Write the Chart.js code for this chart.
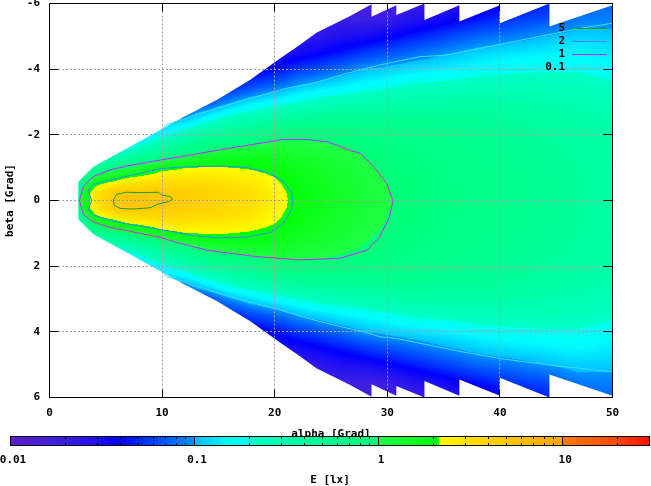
<!DOCTYPE html>
<html>
<head>
<meta charset="utf-8">
<script src="https://cdn.jsdelivr.net/npm/chart.js@4/dist/chart.umd.min.js"></script>
<style>
  body { margin: 0; background: #fff; }
  #wrap { position: relative; width: 651px; height: 486px; }
  canvas { position: absolute; left: 0; top: 0; }
</style>
</head>
<body>
<div id="wrap">
  <canvas id="mapChart" width="651" height="486"></canvas>
  <canvas id="barChart" width="651" height="486"></canvas>
</div>
<script>
// axis ticks
const alphaTicks = [0, 10, 20, 30, 40, 50];
const betaTicks = [-6, -4, -2, 0, 2, 4, 6];
const cbTicks = [0.01, 0.1, 1, 10];
const cbLabels = ['0.01', '0.1', '1', '10'];
const cbMinor = [0.02, 0.03, 0.04, 0.05, 0.06, 0.07, 0.08, 0.09,
                 0.2, 0.3, 0.4, 0.5, 0.6, 0.7, 0.8, 0.9,
                 2, 3, 4, 5, 6, 7, 8, 9, 20];

// measured grid: E [lx] per alpha column, at |beta| nodes (field is symmetric in beta)
const alphaNodes = [2.6, 3, 3.5, 4, 5, 6, 7, 8, 10, 12, 14, 16, 18, 20, 22, 24, 26, 28, 30, 32, 35, 38, 41, 44, 47, 50];
const betaNodes = [0, 0.25, 0.5, 0.75, 1, 1.25, 1.5, 1.75, 2, 2.5, 3, 3.5, 4, 4.5, 5, 5.5, 6];
const illum = [
  [0.95, 0.7, 0.35, 0.25],
  [1.5, 1.3, 0.85, 0.45],
  [1.95, 2.0, 1.2, 0.65, 0.4],
  [2.8, 2.6, 1.9, 0.95, 0.45, 0.3],
  [4.0, 3.5, 2.3, 1.3, 0.65, 0.3],
  [5.2, 4.8, 2.7, 1.6, 0.85, 0.38, 0.17],
  [5.4, 5.0, 3.0, 1.95, 1.0, 0.5, 0.22, 0.14],
  [5.5, 5.0, 3.2, 2.1, 1.15, 0.6, 0.3, 0.17, 0.12],
  [5.1, 4.6, 3.6, 2.6, 1.85, 0.85, 0.5, 0.3, 0.17, 0.09],
  [4.6, 4.3, 3.5, 2.7, 2.1, 1.15, 0.7, 0.45, 0.28, 0.1, 0.06],
  [4.1, 3.9, 3.3, 2.7, 2.2, 1.5, 0.97, 0.65, 0.42, 0.16, 0.06],
  [3.6, 3.45, 3.0, 2.6, 2.15, 1.6, 1.15, 0.8, 0.55, 0.24, 0.095, 0.045],
  [3.1, 3.0, 2.7, 2.4, 2.05, 1.65, 1.25, 0.9, 0.65, 0.3, 0.13, 0.06, 0.035],
  [2.55, 2.45, 2.3, 2.1, 1.85, 1.6, 1.3, 1.05, 0.8, 0.4, 0.16, 0.075, 0.04, 0.03],
  [1.9, 1.88, 1.8, 1.7, 1.55, 1.4, 1.22, 1.05, 0.88, 0.47, 0.2, 0.1, 0.055, 0.032, 0.025],
  [1.6, 1.58, 1.54, 1.46, 1.36, 1.25, 1.12, 1.02, 0.88, 0.5, 0.24, 0.12, 0.065, 0.038, 0.025, 0.02],
  [1.35, 1.34, 1.31, 1.26, 1.2, 1.13, 1.05, 0.95, 0.83, 0.52, 0.27, 0.14, 0.08, 0.045, 0.03, 0.02],
  [1.15, 1.14, 1.12, 1.09, 1.05, 1.01, 0.96, 0.88, 0.8, 0.55, 0.3, 0.16, 0.1, 0.055, 0.032, 0.02, 0.015],
  [1.02, 1.015, 1.0, 0.98, 0.95, 0.91, 0.86, 0.8, 0.73, 0.55, 0.33, 0.18, 0.11, 0.065, 0.038, 0.022, 0.015],
  [0.93, 0.93, 0.92, 0.9, 0.87, 0.84, 0.8, 0.75, 0.69, 0.54, 0.36, 0.21, 0.125, 0.075, 0.045, 0.028, 0.02],
  [0.8, 0.8, 0.79, 0.78, 0.76, 0.73, 0.7, 0.66, 0.62, 0.5, 0.36, 0.23, 0.14, 0.095, 0.058, 0.035, 0.025],
  [0.7, 0.7, 0.69, 0.68, 0.67, 0.65, 0.63, 0.6, 0.57, 0.48, 0.37, 0.25, 0.165, 0.115, 0.075, 0.045, 0.03],
  [0.6, 0.6, 0.6, 0.59, 0.58, 0.56, 0.55, 0.52, 0.5, 0.44, 0.35, 0.26, 0.18, 0.13, 0.085, 0.055, 0.04],
  [0.52, 0.52, 0.52, 0.51, 0.5, 0.49, 0.48, 0.46, 0.45, 0.4, 0.33, 0.26, 0.19, 0.14, 0.1, 0.065, 0.045],
  [0.45, 0.45, 0.45, 0.44, 0.44, 0.43, 0.42, 0.41, 0.4, 0.36, 0.31, 0.25, 0.19, 0.15, 0.115, 0.085, 0.07],
  [0.38, 0.38, 0.38, 0.38, 0.37, 0.37, 0.36, 0.36, 0.35, 0.32, 0.27, 0.22, 0.16, 0.135, 0.11, 0.09, 0.075]
];

// outline of the measured region (half width in beta, mirrored)
const edgeAlpha = [2.56, 3.9, 8.0, 11.9, 14.85, 17.8, 20.5, 22.25, 23.7, 26.7, 28.6, 28.6, 30.8, 30.8, 33.3, 33.3, 36.4, 36.4, 40.0, 40.0, 44.4, 44.4, 50];
const edgeBeta = [0.57, 1.03, 1.8, 2.54, 3.06, 3.67, 4.33, 4.74, 5.11, 5.62, 5.98, 5.6, 5.95, 5.65, 6.0, 5.5, 5.95, 5.45, 5.95, 5.4, 6.0, 5.3, 5.95];

// contour lines
const c5Alpha = [5.67, 5.97, 6.86, 8.04, 9.66, 9.96, 10.7, 10.94, 10.55, 9.81, 8.93, 7.45, 6.26, 5.73, 5.67];
const c5Beta = [-0.02, -0.19, -0.25, -0.24, -0.25, -0.17, -0.12, -0.05, 0.04, 0.09, 0.22, 0.26, 0.24, 0.14, -0.02];
const c2Alpha = [3.45, 3.89, 5.08, 6.56, 8.04, 10.1, 12.48, 15.4, 17.5, 19.6, 20.8, 21.5, 21.65, 21.4, 20.8, 19.6, 17.5, 14.85, 12.48, 10.1, 8.04, 6.56, 5.08, 3.89, 3.45, 3.6, 3.75, 3.6, 3.45];
const c2Beta = [-0.32, -0.49, -0.6, -0.72, -0.83, -0.98, -1.03, -1.05, -1.01, -0.83, -0.57, -0.22, 0, 0.34, 0.68, 0.98, 1.12, 1.14, 1.05, 0.9, 0.78, 0.7, 0.57, 0.44, 0.29, 0.14, 0, -0.14, -0.32];
const c1Alpha = [2.65, 3.0, 3.89, 5.37, 6.86, 9.81, 11.6, 15.4, 19.9, 20.7, 22.8, 24.6, 25.5, 26.7, 27.6, 28.8, 29.95, 30.5, 30.2, 29.35, 28.2, 25.8, 22.25, 18.4, 13.96, 11.0, 9.81, 6.86, 5.37, 3.89, 3.0, 2.65];
const c1Beta = [0, -0.42, -0.73, -0.93, -1.05, -1.23, -1.33, -1.56, -1.81, -1.86, -1.86, -1.79, -1.69, -1.52, -1.44, -1.03, -0.52, 0, 0.49, 1.1, 1.51, 1.76, 1.81, 1.71, 1.51, 1.25, 1.12, 0.92, 0.82, 0.65, 0.42, 0];
const c01TopAlpha = [10.1, 10.4, 14.85, 20.8, 23.4, 26.4, 29.35, 32.9, 35.3, 41.2, 47.1, 50];
const c01TopBeta = [-2.22, -2.31, -2.81, -3.4, -3.57, -3.87, -4.13, -4.38, -4.43, -4.84, -5.24, -5.4];
const c01BotAlpha = [10.1, 10.4, 14.85, 20.5, 22.25, 24.6, 27.9, 29.35, 30.8, 36.5, 40, 44.4, 50];
const c01BotBeta = [2.22, 2.31, 2.81, 3.34, 3.52, 3.74, 4.0, 4.15, 4.2, 4.6, 4.81, 5.01, 5.22];

const contourLabels = ['5', '2', '1', '0.1'];
const contourColors = ['#20a020', '#3388ff', '#d020ff', '#40d8e8'];

// colour palette (E -> rgb), repeated values give the hard steps
const paletteE = [0.01, 0.02, 0.03, 0.04, 0.05, 0.07, 0.1, 0.1, 0.15, 0.2, 0.2, 0.5, 1, 1, 2.14, 2.14, 3, 5, 10, 10, 20, 30];
const paletteRGB = [[90, 30, 200], [60, 30, 228], [30, 15, 242], [0, 0, 255], [0, 40, 255], [0, 90, 255],
  [0, 150, 255], [0, 190, 255], [0, 250, 255], [0, 255, 235], [0, 255, 200], [0, 255, 150], [0, 255, 120],
  [30, 255, 70], [0, 255, 0], [255, 255, 0], [255, 225, 0], [255, 200, 0], [255, 165, 0], [255, 125, 0],
  [255, 70, 0], [255, 15, 0]];

const tickFont = { family: 'DejaVu Sans Mono', size: 11, weight: 'bold' };

function colorFor(e) {
  const lo = paletteE[0], hi = paletteE[paletteE.length - 1];
  const v = Math.log10(Math.min(Math.max(e, lo), hi));
  for (let i = 0; i < paletteE.length - 1; i++) {
    const l0 = Math.log10(paletteE[i]), l1 = Math.log10(paletteE[i + 1]);
    if (l1 > l0 && v >= l0 && v <= l1) {
      const t = (v - l0) / (l1 - l0);
      const c0 = paletteRGB[i], c1 = paletteRGB[i + 1];
      return [c0[0] + (c1[0] - c0[0]) * t, c0[1] + (c1[1] - c0[1]) * t, c0[2] + (c1[2] - c0[2]) * t];
    }
  }
  return paletteRGB[paletteRGB.length - 1];
}

function locate(nodes, v) {
  const n = nodes.length;
  if (v <= nodes[0]) return [0, 0];
  if (v >= nodes[n - 1]) return [n - 2, 1];
  let i = 0;
  while (nodes[i + 1] < v) i++;
  return [i, (v - nodes[i]) / (nodes[i + 1] - nodes[i])];
}

const pts = (xs, ys) => xs.map((a, i) => ({ x: a, y: ys[i] }));

const contourSets = [
  pts(c5Alpha, c5Beta), pts(c2Alpha, c2Beta), pts(c1Alpha, c1Beta),
  pts(c01TopAlpha, c01TopBeta), pts(c01BotAlpha, c01BotBeta)
];
const contourOf = [0, 1, 2, 3, 3];

const datasets = contourSets.map((d, i) => ({
  label: contourLabels[contourOf[i]],
  data: d,
  showLine: true,
  borderColor: contourColors[contourOf[i]],
  borderWidth: 1,
  pointRadius: 0,
  tension: 0,
  fill: false
}));

// heat map below the grid, frame and key above everything
const mapPlugin = {
  id: 'mapPlugin',
  beforeDraw(chart) {
    const { ctx, chartArea: ca, scales: { x, y } } = chart;
    ctx.save();
    ctx.fillStyle = '#fff';
    ctx.fillRect(0, 0, chart.width, chart.height);

    const x0 = Math.ceil(ca.left), y0 = Math.ceil(ca.top);
    const w = Math.floor(ca.right) - x0, h = Math.floor(ca.bottom) - y0;
    const logGrid = illum.map(col => {
      let last = col[0];
      return betaNodes.map((_, r) => {
        if (col[r] != null) last = col[r];
        return Math.log10(last);
      });
    });
    const cols = [], rows = [];
    for (let i = 0; i < w; i++) cols.push(locate(alphaNodes, x.getValueForPixel(x0 + i + 0.5)));
    for (let j = 0; j < h; j++) rows.push(locate(betaNodes, Math.abs(y.getValueForPixel(y0 + j + 0.5))));

    const off = document.createElement('canvas');
    off.width = w; off.height = h;
    const octx = off.getContext('2d');
    const img = octx.createImageData(w, h);
    for (let j = 0; j < h; j++) {
      const [ri, rt] = rows[j];
      for (let i = 0; i < w; i++) {
        const [ci, ct] = cols[i];
        const g0 = logGrid[ci], g1 = logGrid[ci + 1];
        const v0 = g0[ri] * (1 - rt) + g0[ri + 1] * rt;
        const v1 = g1[ri] * (1 - rt) + g1[ri + 1] * rt;
        const c = colorFor(Math.pow(10, v0 * (1 - ct) + v1 * ct));
        const k = (j * w + i) * 4;
        img.data[k] = c[0]; img.data[k + 1] = c[1]; img.data[k + 2] = c[2]; img.data[k + 3] = 255;
      }
    }
    octx.putImageData(img, 0, 0);

    ctx.beginPath();
    edgeAlpha.forEach((a, k) => {
      const px = x.getPixelForValue(a), py = y.getPixelForValue(-edgeBeta[k]);
      if (k === 0) ctx.moveTo(px, py); else ctx.lineTo(px, py);
    });
    for (let k = edgeAlpha.length - 1; k >= 0; k--) {
      ctx.lineTo(x.getPixelForValue(edgeAlpha[k]), y.getPixelForValue(edgeBeta[k]));
    }
    ctx.closePath();
    ctx.clip();
    ctx.drawImage(off, x0, y0);
    ctx.restore();
  },
  afterDraw(chart) {
    const { ctx, chartArea: ca, scales: { x, y } } = chart;
    ctx.save();
    ctx.strokeStyle = '#000';
    ctx.lineWidth = 1;
    ctx.beginPath();
    alphaTicks.forEach(v => {
      const px = Math.floor(x.getPixelForValue(v)) + 0.5;
      ctx.moveTo(px, ca.bottom); ctx.lineTo(px, ca.bottom - 8);
      ctx.moveTo(px, ca.top); ctx.lineTo(px, ca.top + 8);
    });
    betaTicks.forEach(v => {
      const py = Math.floor(y.getPixelForValue(v)) + 0.5;
      ctx.moveTo(ca.left, py); ctx.lineTo(ca.left + 9, py);
      ctx.moveTo(ca.right, py); ctx.lineTo(ca.right - 9, py);
    });
    ctx.stroke();
    ctx.strokeRect(ca.left, ca.top, ca.right - ca.left, ca.bottom - ca.top);

    // key
    ctx.font = 'bold 11px "DejaVu Sans Mono"';
    ctx.fillStyle = '#000';
    ctx.textAlign = 'right';
    ctx.textBaseline = 'middle';
    contourLabels.forEach((lab, i) => {
      const ly = 28 + i * 13;
      ctx.fillText(lab, 565, ly);
      ctx.strokeStyle = contourColors[i];
      ctx.beginPath();
      ctx.moveTo(572, ly + 0.5); ctx.lineTo(607, ly + 0.5);
      ctx.stroke();
    });
    ctx.restore();
  }
};

const mapChart = new Chart(document.getElementById('mapChart'), {
  type: 'scatter',
  data: { datasets },
  options: {
    responsive: false,
    animation: false,
    devicePixelRatio: 1,
    layout: { padding: { left: 0, right: 38.5, top: 3.5, bottom: 0 } },
    plugins: { legend: { display: false }, tooltip: { enabled: false } },
    scales: {
      x: {
        type: 'linear', min: 0, max: 50, position: 'bottom',
        afterBuildTicks: s => { s.ticks = alphaTicks.map(v => ({ value: v })); },
        afterFit: s => { s.height = 88.5; s.paddingLeft = 0; s.paddingRight = 0; },
        grid: { color: '#a0a0a0', drawTicks: false, lineWidth: 1 },
        border: { display: false, dash: [2, 2] },
        ticks: { color: '#000', font: tickFont, padding: 9, maxRotation: 0 },
        title: { display: true, text: 'alpha [Grad]', color: '#000', font: tickFont, padding: { top: 0, bottom: 45 } }
      },
      y: {
        type: 'linear', min: -6, max: 6, reverse: true, position: 'left',
        afterBuildTicks: s => { s.ticks = betaTicks.map(v => ({ value: v })); },
        afterFit: s => { s.width = 49.5; s.paddingTop = 0; s.paddingBottom = 0; },
        grid: { color: '#a0a0a0', drawTicks: false, lineWidth: 1 },
        border: { display: false, dash: [2, 2] },
        ticks: { color: '#000', font: tickFont, padding: 9.5 },
        title: { display: true, text: 'beta [Grad]', color: '#000', font: tickFont, padding: { top: 3.4, bottom: 0 } }
      }
    }
  },
  plugins: [mapPlugin]
});

// colour box
const barPlugin = {
  id: 'barPlugin',
  beforeDraw(chart) {
    const { ctx, chartArea: ca, scales: { x } } = chart;
    ctx.save();
    for (let px = Math.floor(ca.left); px < Math.ceil(ca.right); px++) {
      const c = colorFor(x.getValueForPixel(px + 0.5));
      ctx.fillStyle = `rgb(${c[0] | 0},${c[1] | 0},${c[2] | 0})`;
      ctx.fillRect(px, ca.top, 1, ca.bottom - ca.top);
    }
    ctx.strokeStyle = '#000';
    ctx.lineWidth = 1;
    ctx.beginPath();
    cbMinor.forEach(v => {
      const px = Math.floor(x.getPixelForValue(v)) + 0.5;
      ctx.moveTo(px, ca.top); ctx.lineTo(px, ca.top + 3);
      ctx.moveTo(px, ca.bottom); ctx.lineTo(px, ca.bottom - 3);
    });
    cbTicks.forEach(v => {
      const px = Math.floor(x.getPixelForValue(v)) + 0.5;
      ctx.moveTo(px, ca.top); ctx.lineTo(px, ca.bottom);
    });
    ctx.stroke();
    ctx.strokeRect(ca.left + 0.5, ca.top + 0.5, ca.right - ca.left - 1, ca.bottom - ca.top - 1);
    ctx.restore();
  }
};

const barChart = new Chart(document.getElementById('barChart'), {
  type: 'scatter',
  data: { datasets: [] },
  options: {
    responsive: false,
    animation: false,
    devicePixelRatio: 1,
    layout: { padding: { left: 10, right: 1, top: 436, bottom: 0 } },
    plugins: { legend: { display: false }, tooltip: { enabled: false } },
    scales: {
      x: {
        type: 'logarithmic', min: 0.01, max: 30, position: 'bottom',
        afterBuildTicks: s => { s.ticks = cbTicks.map(v => ({ value: v })); },
        afterFit: s => { s.height = 40; s.paddingLeft = 0; s.paddingRight = 0; },
        grid: { display: false, drawTicks: false },
        border: { display: false },
        ticks: { color: '#000', font: tickFont, padding: 8, labelOffset: 3, maxRotation: 0, callback: (v, i) => cbLabels[i] },
        title: { display: true, text: 'E [lx]', color: '#000', font: { ...tickFont, lineHeight: 1 }, padding: { top: 0, bottom: 0.5 } }
      },
      y: { display: false, min: 0, max: 1 }
    }
  },
  plugins: [barPlugin]
});
</script>
</body>
</html>
